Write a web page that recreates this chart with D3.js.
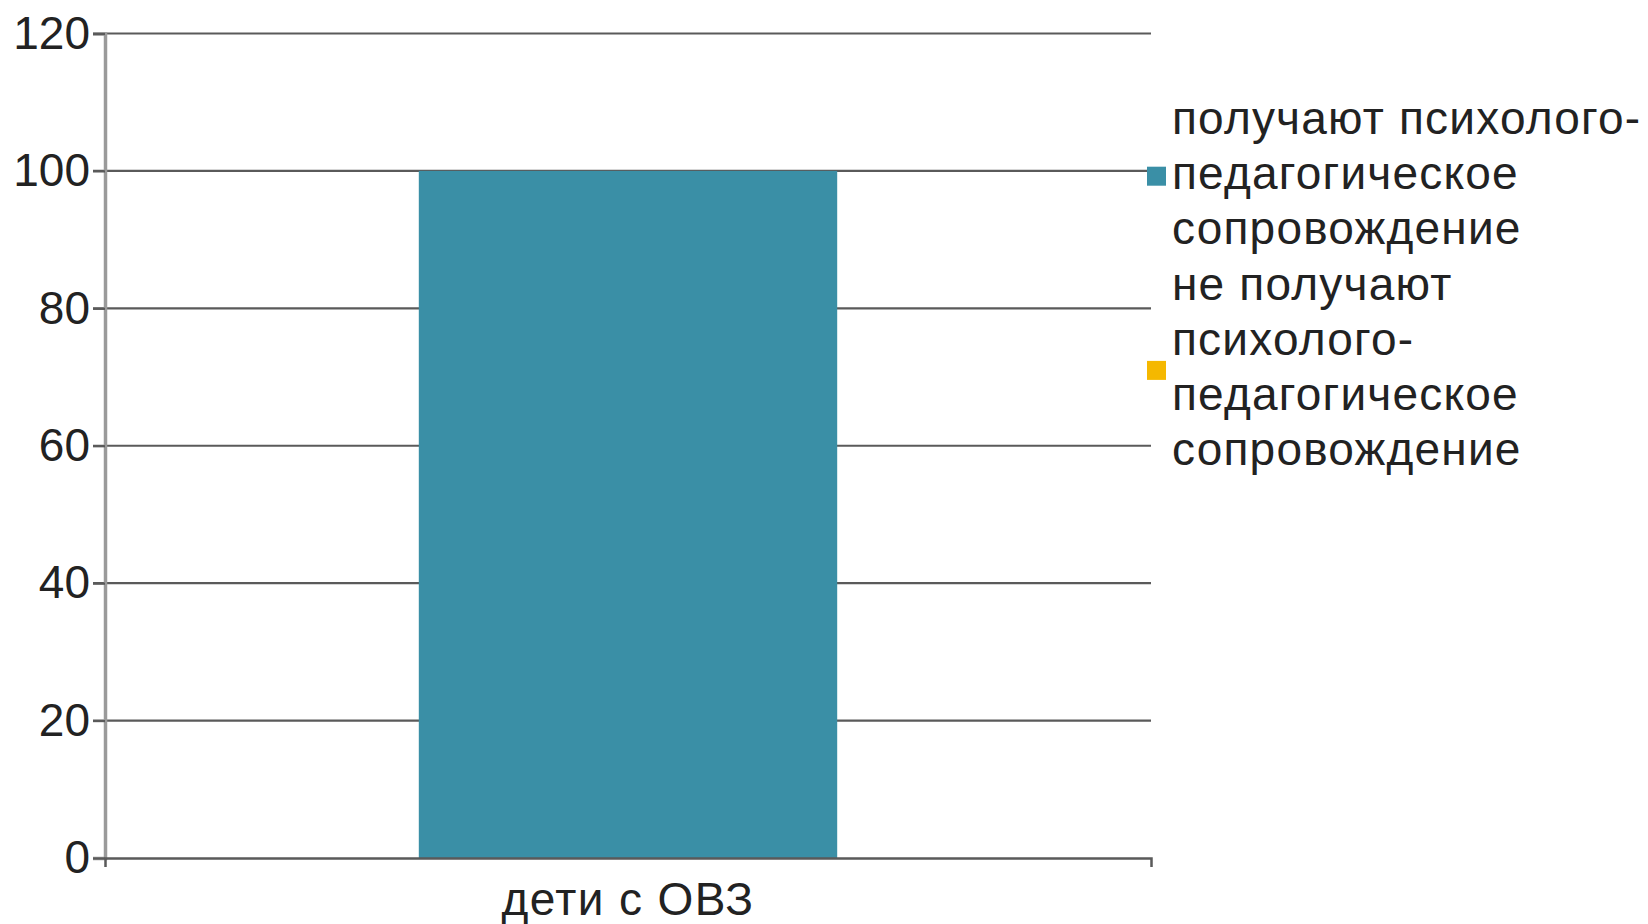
<!DOCTYPE html>
<html><head><meta charset="utf-8">
<script src="https://cdn.jsdelivr.net/npm/d3@7/dist/d3.min.js"></script>
<style>
html,body{margin:0;padding:0;background:#fff;}
svg{display:block;font-family:"Liberation Sans",Arial,sans-serif;}
</style></head>
<body>
<svg id="chart" width="1648" height="924"></svg>
<script>
const categories = ["дети с ОВЗ"];
const seriesNames = [
  ["получают психолого-", "педагогическое", "сопровождение"],
  ["не получают", "психолого-", "педагогическое", "сопровождение"]
];
const seriesColors = ["#3A8FA6", "#F5B800"];
const seriesValues = [[100], [0]];
const yTicks = [0, 20, 40, 60, 80, 100, 120];

const svg = d3.select("#chart");
const plotLeft = 105, plotRight = 1151, plotTop = 33.5, plotBottom = 858;

const y = d3.scaleLinear().domain([0, 120]).range([plotBottom, plotTop]);
const x = d3.scaleBand().domain(categories).range([plotLeft, plotRight]).paddingInner(0.6).paddingOuter(0.3);

// gridlines
svg.append("g").selectAll("line").data(yTicks.filter(d => d > 0)).join("line")
  .attr("x1", plotLeft - 12).attr("x2", plotRight)
  .attr("y1", d => y(d)).attr("y2", d => y(d))
  .attr("stroke", "#5a5a5a").attr("stroke-width", 2.2);

// bars
categories.forEach((c, ci) => {
  seriesValues.forEach((vals, si) => {
    if (vals[ci] <= 0) return;
    svg.append("rect")
      .attr("x", x(c)).attr("width", x.bandwidth())
      .attr("y", y(vals[ci])).attr("height", y(0) - y(vals[ci]))
      .attr("fill", seriesColors[si]);
  });
});

// left axis
const yAxis = svg.append("g").attr("transform", `translate(${plotLeft},0)`)
  .call(d3.axisLeft(y).tickValues(yTicks).tickSize(12).tickPadding(3).tickFormat(d3.format("d")));
yAxis.select(".domain").attr("stroke", "#9a9a9a").attr("stroke-width", 3.5);
yAxis.selectAll(".tick line").attr("stroke", "#5a5a5a").attr("stroke-width", 2.2);
yAxis.selectAll(".tick text").attr("font-size", 46).attr("fill", "#222")
  .attr("font-family", "'Liberation Sans',Arial,sans-serif");

// bottom axis
const xAxis = svg.append("g").attr("transform", `translate(0,${plotBottom})`)
  .call(d3.axisBottom(x).tickSizeInner(0).tickSizeOuter(9).tickPadding(0));
xAxis.select(".domain").attr("stroke", "#5a5a5a").attr("stroke-width", 2.5);
xAxis.selectAll(".tick text").attr("font-size", 46).attr("fill", "#222")
  .attr("letter-spacing", 1.4)
  .attr("dy", null).attr("y", 57)
  .attr("font-family", "'Liberation Sans',Arial,sans-serif");

// legend
const lg = svg.append("g");
const lineH = 55.2, firstBase = 134, textX = 1172;
let lineIdx = 0;
seriesNames.forEach((lines, si) => {
  const startIdx = lineIdx;
  lines.forEach(t => {
    lg.append("text").attr("x", textX).attr("y", firstBase + lineIdx * lineH)
      .attr("font-size", 46).attr("letter-spacing", 1.2).attr("fill", "#222").text(t);
    lineIdx++;
  });
  const midBase = firstBase + (startIdx + (lines.length - 1) / 2) * lineH;
  const cy = midBase - 12 + (si === 0 ? -1 : 0);
  lg.append("rect").attr("x", 1147).attr("y", cy - 9.5).attr("width", 19).attr("height", 19)
    .attr("fill", seriesColors[si]);
});
</script>
</body></html>
